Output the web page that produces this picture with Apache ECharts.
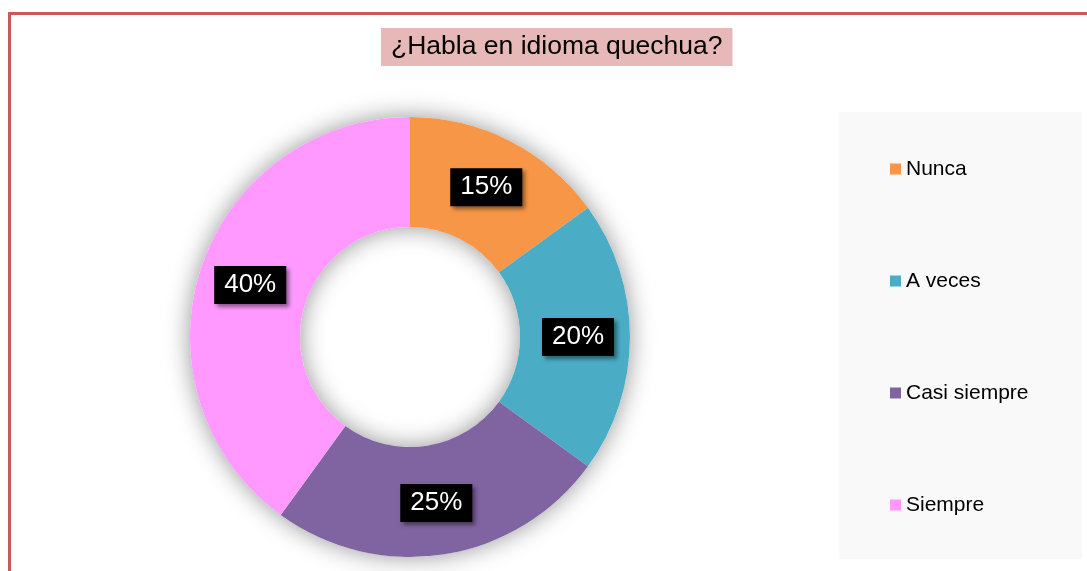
<!DOCTYPE html>
<html>
<head>
<meta charset="utf-8">
<script src="https://cdn.jsdelivr.net/npm/echarts@6/dist/echarts.min.js"></script>
<style>
html,body{margin:0;padding:0;background:#fff;}
#chart{width:1087px;height:571px;}
</style>
</head>
<body>
<div id="chart"></div>
<script>
var titleText = '¿Habla en idioma quechua?';
var categories = ['Nunca', 'A veces', 'Casi siempre', 'Siempre'];
var values = [15, 20, 25, 40];
var colors = ['#f79646', '#4bacc6', '#8064a2', '#ff99ff'];

var FONT = '"Liberation Sans", Arial, sans-serif';
var chart = echarts.init(document.getElementById('chart'));

var data = categories.map(function (c, i) {
  return { name: c, value: values[i], itemStyle: { color: colors[i] } };
});

chart.setOption({
  animation: false,
  backgroundColor: '#ffffff',
  title: {
    text: titleText,
    left: 381,
    top: 28,
    padding: [5, 10, 5, 10],
    backgroundColor: '#e6b8b7',
    textStyle: { fontFamily: FONT, fontSize: 26.5, fontWeight: 'normal', color: '#000', lineHeight: 28 }
  },
  legend: {
    orient: 'vertical',
    left: 885,
    top: 153.5,
    itemGap: 91,
    itemWidth: 11,
    itemHeight: 11,
    icon: 'rect',
    data: categories,
    textStyle: { fontFamily: FONT, fontSize: 21, color: '#000' }
  },
  graphic: [
    { type: 'rect', z: -10, shape: { x: 839, y: 112, width: 243, height: 447 }, style: { fill: '#f9f9f9' } },
    { type: 'rect', z: 10, shape: { x: 8, y: 12, width: 1079, height: 3 }, style: { fill: '#c9595a' } },
    { type: 'rect', z: 10, shape: { x: 8, y: 12, width: 3, height: 559 }, style: { fill: '#c9595a' } }
  ],
  series: [
    {
      type: 'pie',
      silent: true,
      center: [410, 337],
      radius: [110, 220],
      label: { show: false },
      labelLine: { show: false },
      z: 1,
      data: [{ name: '', value: 1, itemStyle: { color: '#ffffff', shadowBlur: 24, shadowColor: 'rgba(0,0,0,0.42)' } }]
    },
    {
      type: 'pie',
      center: [410, 337],
      radius: [110, 220],
      startAngle: 90,
      clockwise: true,
      z: 2,
      itemStyle: { borderWidth: 0 },
      label: {
        show: true,
        position: 'inside',
        formatter: '{c}%',
        fontFamily: FONT,
        fontSize: 26,
        color: '#ffffff',
        backgroundColor: '#000000',
        padding: [6, 10, 6, 10],
        lineHeight: 26,
        shadowColor: 'rgba(0,0,0,0.45)',
        shadowBlur: 4,
        shadowOffsetX: 3,
        shadowOffsetY: 3
      },
      labelLine: { show: false },
      emphasis: { disabled: true },
      data: data
    }
  ]
});
</script>
</body>
</html>
